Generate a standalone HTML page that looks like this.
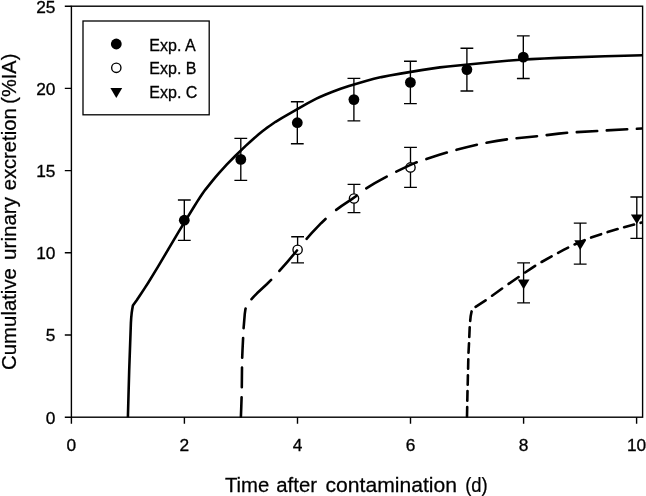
<!DOCTYPE html>
<html lang="en"><head><meta charset="utf-8"><title>Cumulative urinary excretion</title>
<style>html,body{margin:0;padding:0;background:#fff}body{width:646px;height:496px;overflow:hidden}svg{display:block;will-change:transform}text{font-family:"Liberation Sans",sans-serif;fill:#000}.t{font-size:16.5px;stroke:#000;stroke-width:.3px}.ax,.ay{font-size:21px;stroke:#000;stroke-width:.25px}.l{font-size:16.8px;stroke:#000;stroke-width:.3px}</style></head><body>
<svg width="646" height="496" viewBox="0 0 646 496">
<rect width="646" height="496" fill="#fff"/>
<defs><clipPath id="c"><rect x="71.4" y="6.2" width="571.8" height="411.6"/></clipPath></defs>
<g clip-path="url(#c)">
<path d="M184.3 200.0V240.4M177.9 200.0H190.7M177.9 240.4H190.7M240.8 138.4V180.4M234.4 138.4H247.2M234.4 180.4H247.2M297.3 101.7V143.7M290.9 101.7H303.7M290.9 143.7H303.7M353.9 78.4V120.8M347.5 78.4H360.3M347.5 120.8H360.3M410.4 61.2V103.6M404.0 61.2H416.8M404.0 103.6H416.8M466.9 48.2V91.0M460.5 48.2H473.3M460.5 91.0H473.3M523.3 35.8V78.5M516.9 35.8H529.7M516.9 78.5H529.7M297.6 236.7V262.9M291.2 236.7H304.0M291.2 262.9H304.0M354.0 184.4V212.6M347.6 184.4H360.4M347.6 212.6H360.4M410.5 147.4V187.4M404.1 147.4H416.9M404.1 187.4H416.9M523.6 262.9V302.9M517.2 262.9H530.0M517.2 302.9H530.0M580.2 223.1V264.1M573.8 223.1H586.6M573.8 264.1H586.6M636.8 197.0V238.4M630.4 197.0H643.2M630.4 238.4H643.2" fill="none" stroke="#000" stroke-width="1.35"/>
<circle cx="184.3" cy="220.2" r="5.4"/>
<circle cx="240.8" cy="159.4" r="5.4"/>
<circle cx="297.3" cy="122.7" r="5.4"/>
<circle cx="353.9" cy="99.6" r="5.4"/>
<circle cx="410.4" cy="82.4" r="5.4"/>
<circle cx="466.9" cy="69.6" r="5.4"/>
<circle cx="523.3" cy="57.1" r="5.4"/>
<circle cx="297.6" cy="249.8" r="4.65" fill="#fff" stroke="#000" stroke-width="1.35"/>
<circle cx="354.0" cy="198.5" r="4.65" fill="#fff" stroke="#000" stroke-width="1.35"/>
<circle cx="410.5" cy="167.4" r="4.65" fill="#fff" stroke="#000" stroke-width="1.35"/>
<path d="M517.7 279.6H529.5L523.6 289.2Z"/>
<path d="M574.3 240.3H586.1L580.2 249.9Z"/>
<path d="M630.9 214.4H642.7L636.8 224.0Z"/>
<path d="M127.9 417.5L128.5 395.2L129.2 370.2L130.9 322.8L131.2 318.0L131.7 312.8L132.2 309.5L132.9 305.5L136.7 300.2L140.7 294.3L144.4 288.6L148.2 282.7L158.2 266.4L178.9 231.3L193.7 207.2L197.2 201.6L200.2 197.0L202.9 193.0L205.4 189.6L212.2 181.1L215.7 176.9L219.4 172.6L226.9 164.4L235.2 156.0L245.4 146.1L250.2 141.8L254.4 138.0L258.4 134.6L262.4 131.3L266.1 128.4L269.9 125.7L275.6 121.8L282.1 117.8L307.4 103.4L312.1 100.9L316.4 98.7L319.9 97.0L325.1 94.8L332.6 91.8L340.6 88.8L348.9 86.0L357.4 83.4L365.9 80.9L373.9 78.8L381.4 77.1L389.6 75.5L400.4 73.6L421.4 70.1L431.4 68.6L439.9 67.4L447.9 66.5L457.9 65.5L493.6 62.0L510.4 60.5L520.4 59.8L531.4 59.1L544.1 58.5L558.1 57.9L604.9 56.2L624.4 55.7L642.6 55.3" fill="none" stroke="#000" stroke-width="2.6" stroke-linejoin="round"/>
<path d="M240.9 416.8L241.3 406.3L241.6 397.2M241.8 387.2L242.0 367.6M242.2 357.7L242.5 350.2L243.1 338.1M243.6 328.1L244.8 313.6L245.3 310.1L245.6 308.5M251.5 299.2L254.0 296.4L257.0 293.3L267.0 284.0L271.1 279.9M279.4 270.9L287.4 261.8L297.0 250.5M306.6 238.8L311.6 233.2L316.6 227.8L321.1 223.2L325.5 219.0M336.2 209.9L341.7 205.9L352.2 198.8L356.6 195.7M366.3 188.4L370.3 185.8L374.8 183.1L379.8 180.3L386.7 176.6M396.3 171.6L408.3 165.9L412.8 163.9L416.7 162.3M426.4 159.1L439.4 154.8L446.8 152.5M456.5 149.8L467.5 146.9L476.9 144.7M486.5 142.8L497.0 140.9L506.9 139.4M516.6 138.2L537.0 136.2M546.7 135.1L558.7 133.6L567.1 132.8M576.8 132.1L597.2 131.0M606.8 130.4L627.2 129.3M636.9 128.8L641.7 128.5" fill="none" stroke="#000" stroke-width="2.6" stroke-linejoin="round" stroke-linecap="round"/>
<path d="M467.0 416.6L467.2 407.1M467.3 400.7L467.5 391.1M467.7 384.7L467.9 375.2M468.1 368.8L468.3 359.2M468.5 352.8L469.0 343.3M469.3 336.9L469.7 327.3M470.2 320.9L470.7 315.9L471.2 313.4L471.6 311.4M475.6 306.9L485.6 300.3M492.1 295.7L502.1 288.5M508.6 283.9L518.6 277.0M525.1 272.5L530.6 268.8L535.1 265.8M541.6 262.0L551.6 256.4M558.1 252.8L563.6 249.9L568.1 247.6M574.6 244.5L580.1 242.0L584.6 240.1M591.1 237.6L601.1 234.2M607.6 232.1L617.6 229.1M624.1 227.2L634.1 224.5M640.6 222.8L641.7 222.5" fill="none" stroke="#000" stroke-width="2.6" stroke-linejoin="round" stroke-linecap="round"/>
</g>
<rect x="71.4" y="6.2" width="571.2" height="411.0" fill="none" stroke="#000" stroke-width="1.4"/>
<path d="M71.4 417.2V423.7M184.4 417.2V423.7M297.5 417.2V423.7M410.5 417.2V423.7M523.6 417.2V423.7M636.6 417.2V423.7M71.4 417.2H64.80000000000001M71.4 335.0H64.80000000000001M71.4 252.8H64.80000000000001M71.4 170.6H64.80000000000001M71.4 88.4H64.80000000000001M71.4 6.2H64.80000000000001" fill="none" stroke="#000" stroke-width="1.4"/>
<text class="t" transform="translate(71.4 450.7) scale(1.0500 1)" text-anchor="middle">0</text>
<text class="t" transform="translate(184.4 450.7) scale(1.0500 1)" text-anchor="middle">2</text>
<text class="t" transform="translate(297.5 450.7) scale(1.0500 1)" text-anchor="middle">4</text>
<text class="t" transform="translate(410.5 450.7) scale(1.0500 1)" text-anchor="middle">6</text>
<text class="t" transform="translate(523.6 450.7) scale(1.0500 1)" text-anchor="middle">8</text>
<text class="t" transform="translate(636.6 450.7) scale(1.0500 1)" text-anchor="middle">10</text>
<text class="t" transform="translate(55.4 423.6) scale(1.0500 1)" text-anchor="end">0</text>
<text class="t" transform="translate(55.4 341.4) scale(1.0500 1)" text-anchor="end">5</text>
<text class="t" transform="translate(55.4 259.2) scale(1.0500 1)" text-anchor="end">10</text>
<text class="t" transform="translate(55.4 177.0) scale(1.0500 1)" text-anchor="end">15</text>
<text class="t" transform="translate(55.4 94.8) scale(1.0500 1)" text-anchor="end">20</text>
<text class="t" transform="translate(55.4 12.6) scale(1.0500 1)" text-anchor="end">25</text>
<text class="ax" transform="translate(224.90 491.8) scale(0.9676 1)">Time</text>
<text class="ax" transform="translate(276.30 491.8) scale(0.9690 1)">after</text>
<text class="ax" transform="translate(325.50 491.8) scale(1.0067 1)">contamination</text>
<text class="ax" transform="translate(465.20 491.8) scale(0.8782 1)">(d)</text>
<text class="ay" transform="translate(15.8 369.90) rotate(-90) scale(0.9695 1)">Cumulative</text>
<text class="ay" transform="translate(15.8 259.90) rotate(-90) scale(0.9804 1)">urinary</text>
<text class="ay" transform="translate(15.8 190.30) rotate(-90) scale(0.9618 1)">excretion</text>
<text class="ay" transform="translate(15.8 103.70) rotate(-90) scale(0.9524 1)">(%IA)</text>
<rect x="83" y="21" width="126.2" height="93.8" fill="#fff" stroke="#000" stroke-width="1.3"/>
<circle cx="116.3" cy="44" r="5.4"/>
<circle cx="116.3" cy="67.8" r="4.65" fill="#fff" stroke="#000" stroke-width="1.35"/>
<path d="M110.4 88.0H122.2L116.3 97.9Z"/>
<text class="l" transform="translate(149.3 50.8) scale(0.9550 1)">Exp. A</text>
<text class="l" transform="translate(149.3 74.4) scale(0.9550 1)">Exp. B</text>
<text class="l" transform="translate(149.3 98.0) scale(0.9550 1)">Exp. C</text>
</svg></body></html>
